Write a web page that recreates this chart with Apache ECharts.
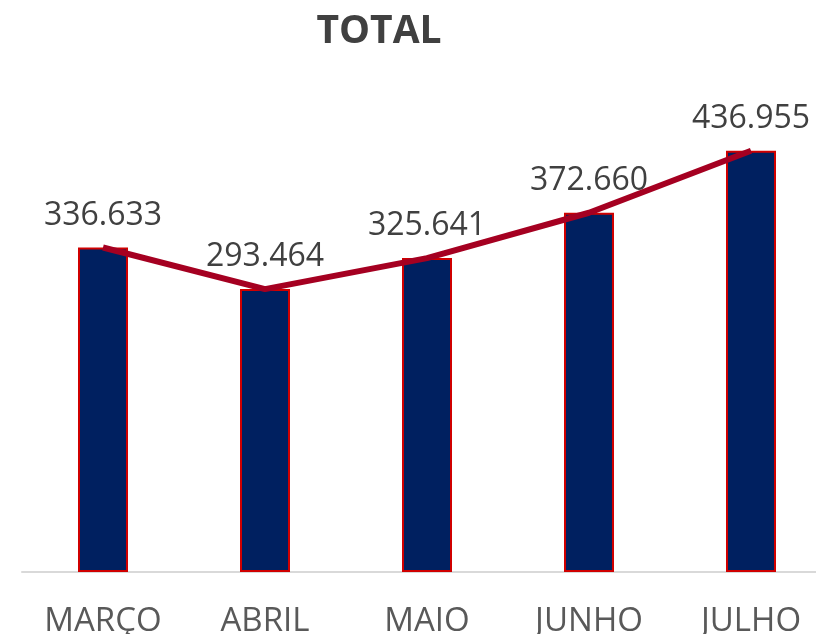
<!DOCTYPE html>
<html><head><meta charset="utf-8">
<script src="https://cdn.jsdelivr.net/npm/echarts@6/dist/echarts.min.js"></script>
<style>html,body{margin:0;padding:0;background:#fff}#c{width:816px;height:634px}</style>
</head><body><div id="c"></div>
<script>
const categories = ['MARÇO', 'ABRIL', 'MAIO', 'JUNHO', 'JULHO'];
const totals = [336633, 293464, 325641, 372660, 436955];
const chartTitle = 'TOTAL';

function fmt(v) { return v.toString().replace(/\B(?=(\d{3})+(?!\d))/g, '.'); }

const chart = echarts.init(document.getElementById('c'));
chart.setOption({
  animation: false,
  backgroundColor: '#fff',
  title: {
    text: chartTitle, left: 374, top: 7, textAlign: 'center',
    textStyle: { fontFamily: 'Open Sans', fontWeight: 'bold', fontSize: 39, color: '#404040' }
  },
  grid: { left: 22, right: -16, top: 90, bottom: 62, outerBoundsMode: 'none', containLabel: false },
  xAxis: {
    type: 'category', data: categories,
    axisLine: { lineStyle: { color: '#d9d9d9', width: 2 } },
    axisTick: { show: false },
    axisLabel: { fontFamily: 'Open Sans', fontSize: 33, color: '#595959', margin: 33, hideOverlap: false }
  },
  yAxis: { type: 'value', min: 0, max: 500000, show: false, splitLine: { show: false } },
  series: [
    {
      type: 'bar', data: totals, barWidth: 50,
      itemStyle: { color: '#002060', borderColor: '#D00000', borderWidth: 2 },
      label: { show: true, position: 'top', distance: 16, formatter: p => fmt(p.value),
        fontFamily: 'Open Sans', fontSize: 32, color: '#404040' }
    },
    {
      type: 'line', data: totals, symbol: 'none',
      lineStyle: { color: '#A50021', width: 6 }, z: 5
    }
  ]
});
</script></body></html>
